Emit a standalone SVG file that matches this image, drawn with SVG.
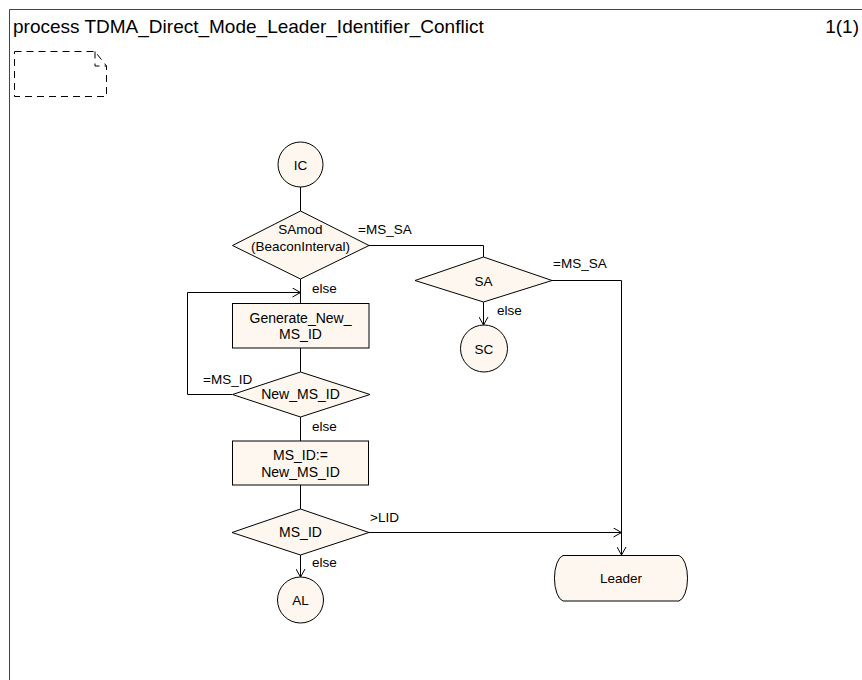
<svg xmlns="http://www.w3.org/2000/svg" width="862" height="680" viewBox="0 0 862 680">
<defs>
<style>
text{font-family:"Liberation Sans",Arial,sans-serif;font-size:13.5px;fill:#000}
.title{font-size:19px}
.c{text-anchor:middle}
.shape{fill:#fef7ef;stroke:#000;stroke-width:1}
.ln{fill:none;stroke:#000;stroke-width:1}
.frame{fill:none;stroke:#444;stroke-width:1}
</style>
<marker id="arr" viewBox="0 0 10 10" refX="9" refY="5" markerWidth="10" markerHeight="10" markerUnits="userSpaceOnUse" orient="auto">
<path d="M1,0.5 L9,5 L1,9.5" fill="none" stroke="#000" stroke-width="1"/>
</marker>
</defs>
<rect width="862" height="680" fill="#fff"/>
<g id="frame">
<path class="frame" d="M9.5,680 V9.5 H862"/>
<text class="title" x="13" y="33">process TDMA_Direct_Mode_Leader_Identifier_Conflict</text>
<text class="title" x="859" y="33" text-anchor="end">1(1)</text>
<path d="M14.5,51.5 H95 L106.5,66 V96.5 H14.5 Z M95,51.5 V66 H106.5" fill="none" stroke="#000" stroke-dasharray="7,5"/>
</g>
<g id="connectors">
<path class="ln" d="M300.5,187 V211"/>
<path class="ln" d="M369,245.5 H483.5 V257"/>
<path class="ln" d="M300.5,279 V303"/>
<path class="ln" d="M232,394.5 H187.5 V292.5 H300.5" marker-end="url(#arr)"/>
<path class="ln" d="M300.5,348 V372"/>
<path class="ln" d="M300.5,417 V441"/>
<path class="ln" d="M300.5,485 V509"/>
<path class="ln" d="M300.5,555 V577" marker-end="url(#arr)"/>
<path class="ln" d="M369,532.5 H621.5" marker-end="url(#arr)"/>
<path class="ln" d="M552,280.5 H621.5 V555" marker-end="url(#arr)"/>
<path class="ln" d="M483.5,302 V325" marker-end="url(#arr)"/>
<text x="358" y="234">=MS_SA</text>
<text x="312" y="293">else</text>
<text x="203" y="384">=MS_ID</text>
<text x="312" y="431">else</text>
<text x="312" y="567">else</text>
<text x="370" y="522">&gt;LID</text>
<text x="553" y="268">=MS_SA</text>
<text x="497" y="315">else</text>
</g>
<g id="IC">
<circle class="shape" cx="300.5" cy="164.5" r="22.5"/>
<text class="c" x="300.5" y="169.5">IC</text>
</g>
<g id="SAmod">
<polygon class="shape" points="300.5,211 369,245.5 300.5,279 232.5,245.5"/>
<text class="c" x="300.5" y="234">SAmod</text>
<text class="c" x="300.5" y="251">(BeaconInterval)</text>
</g>
<g id="SA">
<polygon class="shape" points="483.5,257 552,280.5 483.5,302 415,280.5"/>
<text class="c" x="483.5" y="285.5">SA</text>
</g>
<g id="SC">
<circle class="shape" cx="484" cy="348.5" r="23.5"/>
<text class="c" x="484" y="353.5">SC</text>
</g>
<g id="Generate_New_MS_ID">
<rect class="shape" x="232.5" y="303.5" width="136.5" height="44.5"/>
<text class="c" x="300.5" y="322.5" style="font-size:14px">Generate_New_</text>
<text class="c" x="300.5" y="339" style="font-size:14px">MS_ID</text>
</g>
<g id="New_MS_ID">
<polygon class="shape" points="300.5,372 370,394.5 300.5,417 232.5,394.5"/>
<text class="c" x="300.5" y="399" style="font-size:14px">New_MS_ID</text>
</g>
<g id="Assign_MS_ID">
<rect class="shape" x="232.5" y="441" width="136" height="44"/>
<text class="c" x="300.5" y="460" style="font-size:14px">MS_ID:=</text>
<text class="c" x="300.5" y="477" style="font-size:14px">New_MS_ID</text>
</g>
<g id="MS_ID">
<polygon class="shape" points="300.5,509 369,532.5 300.5,555 232,532.5"/>
<text class="c" x="300.5" y="537" style="font-size:14px">MS_ID</text>
</g>
<g id="AL">
<circle class="shape" cx="300.5" cy="600" r="23"/>
<text class="c" x="300.5" y="605">AL</text>
</g>
<g id="Leader">
<path class="shape" d="M563,555.5 H679 A10,23 0 0 1 679,601 H563 A10,23 0 0 1 563,555.5 Z"/>
<text class="c" x="621" y="583">Leader</text>
</g>
</svg>
